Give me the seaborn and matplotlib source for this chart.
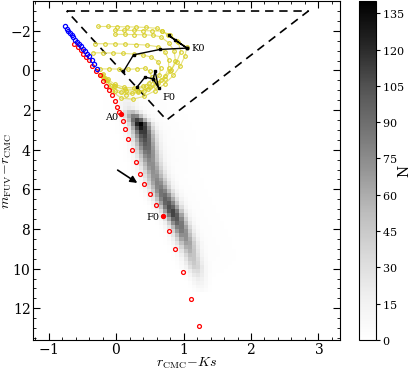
import numpy as np
import seaborn as sns
import matplotlib.pyplot as plt

# main-sequence locus (red open circles), A0 and F0 filled
red_x = [-0.62, -0.57, -0.52, -0.49, -0.44, -0.40, -0.36, -0.29, -0.24, -0.19, -0.15, -0.11,
         -0.06, -0.01, 0.02, 0.05, 0.10, 0.14, 0.18, 0.23, 0.29, 0.35, 0.42, 0.51, 0.59,
         0.79, 0.88, 0.99, 1.11, 1.23]
red_y = [-1.35, -1.18, -1.01, -0.84, -0.67, -0.51, -0.25, 0.03, 0.25, 0.51, 0.76, 1.01,
         1.26, 1.52, 1.85, 2.10, 2.53, 2.95, 3.45, 4.00, 4.60, 5.20, 5.74, 6.25, 6.77,
         8.08, 9.02, 10.17, 11.53, 12.90]
ref_x = [0.07, 0.69]
ref_y = [2.19, 7.36]

# hot end (blue circles)
blue_x = [-0.756, -0.731, -0.706, -0.681, -0.657, -0.632, -0.602, -0.573, -0.543,
          -0.514, -0.484, -0.454, -0.425, -0.395, -0.360, -0.326, -0.286]
blue_y = [-2.22, -2.10, -1.99, -1.89, -1.78, -1.68, -1.55, -1.45, -1.33,
          -1.21, -1.08, -0.96, -0.84, -0.71, -0.54, -0.34, -0.08]

# yellow model tracks
track_x = [
    [-0.26, -0.12, 0.02, 0.16, 0.30, 0.45, 0.60, 0.68, 0.77, 0.90, 1.05, 1.02, 0.95, 0.85, 0.72, 0.58, 0.42, 0.25, 0.08, -0.06, -0.18],
    [-0.01, 0.12, 0.26, 0.40, 0.54, 0.68, 0.80, 0.92, 0.96, 0.90, 0.80, 0.66, 0.50, 0.33, 0.15, -0.02, -0.17],
    [-0.01, 0.13, 0.27, 0.41, 0.55, 0.66, 0.78, 0.86, 0.88, 0.82, 0.72, 0.58, 0.42, 0.24, 0.07, -0.08, -0.19],
    [-0.31, -0.17, -0.02, 0.14, 0.30, 0.46, 0.62, 0.72, 0.78, 0.78, 0.72, 0.62, 0.48, 0.32, 0.15, -0.02, -0.15, -0.22],
    [-0.34, -0.20, -0.04, 0.11, 0.26, 0.40, 0.52, 0.62, 0.66, 0.64, 0.57, 0.45, 0.30, 0.13, -0.03, -0.14, -0.21],
    [-0.24, -0.10, 0.04, 0.18, 0.31, 0.43, 0.50, 0.53, 0.49, 0.40, 0.27, 0.12, -0.02, -0.12, -0.20],
]
track_y = [
    [-2.22, -2.22, -2.21, -2.20, -2.19, -2.17, -2.13, -2.00, -1.77, -1.50, -1.18, -0.72, -0.22, 0.25, 0.68, 1.02, 1.30, 1.45, 1.40, 1.05, 0.45],
    [-2.02, -2.02, -2.02, -2.01, -2.00, -1.98, -1.80, -1.45, -0.95, -0.45, 0.05, 0.48, 0.85, 1.10, 1.22, 1.05, 0.38],
    [-1.82, -1.82, -1.81, -1.80, -1.78, -1.70, -1.40, -1.00, -0.50, 0.00, 0.45, 0.80, 1.05, 1.15, 1.08, 0.80, 0.32],
    [-1.35, -1.35, -1.34, -1.33, -1.31, -1.28, -1.20, -0.95, -0.55, -0.10, 0.30, 0.65, 0.92, 1.05, 1.02, 0.80, 0.50, 0.25],
    [-0.89, -0.89, -0.88, -0.86, -0.83, -0.78, -0.68, -0.45, -0.10, 0.25, 0.55, 0.80, 0.95, 0.95, 0.78, 0.50, 0.22],
    [-0.08, -0.08, -0.07, -0.06, -0.08, -0.12, 0.05, 0.35, 0.62, 0.80, 0.88, 0.85, 0.70, 0.45, 0.18],
]

# spectral-type lines across tracks
k0_x = [0.11, 0.26, 0.65, 1.05, 0.78, 0.87, 1.05]
k0_y = [0.05, -0.79, -1.06, -1.13, -1.77, -1.55, -1.13]
f0_x = [0.31, 0.43, 0.55, 0.58, 0.63, 0.55]
f0_y = [0.84, 0.34, 0.42, 0.05, 0.87, 0.42]

# selection region
box_x = [-0.73, 2.85, 0.75, -0.73]
box_y = [-3.0, -3.0, 2.5, -3.0]

# ridge of the observed stellar density (2D histogram)
ridge_y = [-0.5, 1.0, 1.9, 2.3, 2.7, 3.2, 3.8, 4.5, 5.2, 5.9, 6.5, 7.2, 7.9, 8.7, 9.3, 9.9, 10.5, 11.2]
ridge_x = [0.0, 0.10, 0.19, 0.27, 0.36, 0.41, 0.45, 0.50, 0.57, 0.65, 0.74, 0.85, 0.95, 1.05, 1.11, 1.17, 1.22, 1.26]
ridge_n = [0, 3, 20, 80, 135, 110, 95, 75, 70, 80, 95, 112, 85, 65, 50, 40, 18, 4]
ridge_w = [0.10, 0.10, 0.09, 0.10, 0.10, 0.11, 0.11, 0.11, 0.11, 0.11, 0.11, 0.10, 0.10, 0.10, 0.09, 0.09, 0.08, 0.08]
halo_n = [0, 3, 4, 4, 4, 4, 4, 4, 3, 3, 3, 3, 3, 3, 3, 2, 1, 0]

xe = np.arange(-0.5, 2.5001, 0.06)
ye = np.arange(-1.0, 12.0001, 0.2)
xc = 0.5 * (xe[:-1] + xe[1:])
yc = 0.5 * (ye[:-1] + ye[1:])
X, Y = np.meshgrid(xc, yc)
cx = np.interp(Y, ridge_y, ridge_x)
pk = np.interp(Y, ridge_y, ridge_n, left=0, right=0)
sw = np.interp(Y, ridge_y, ridge_w)
hn = np.interp(Y, ridge_y, halo_n, left=0, right=0)
N = pk * np.exp(-0.5 * ((X - cx) / sw) ** 2)
N += hn * np.exp(-0.5 * ((X - cx - 0.2) / 0.4) ** 2)
N = np.round(N)

plt.rcParams['font.family'] = 'DejaVu Serif'
plt.rcParams['mathtext.fontset'] = 'cm'
plt.rcParams['axes.formatter.use_mathtext'] = True

fig = plt.figure(figsize=(4.15, 3.7), dpi=100)
ax = fig.add_axes([0.0795, 0.081, 0.740, 0.916])
cax = fig.add_axes([0.865, 0.081, 0.041, 0.916])

sns.histplot(x=X.ravel(), y=Y.ravel(), weights=N.ravel(), bins=[xe, ye], cmap='Greys',
             vmin=0, vmax=140, cbar=True, cbar_ax=cax,
             cbar_kws={'ticks': list(range(0, 136, 15))}, ax=ax)
cax.tick_params(labelsize=8, pad=1.5, length=3)
cax.text(2.65, 0.5, 'N', rotation=90, fontsize=10, ha='center', va='center',
         transform=cax.transAxes)

ax.plot(box_x, box_y, 'k--', lw=1.2, dashes=(5, 3.5))
yel = '#d8cf2a'
for tx, ty in zip(track_x, track_y):
    ax.plot(tx, ty, '-', color=yel, lw=0.8, alpha=0.6)
    ax.plot(tx, ty, 'o', ms=2.6, mfc='none', mec=yel, mew=0.8)
ax.plot(k0_x[:4], k0_y[:4], 'k-s', lw=1, ms=2)
ax.plot(k0_x[3:], k0_y[3:], 'k-s', lw=1, ms=2)
ax.plot(f0_x, f0_y, 'k-s', lw=1, ms=2)

ax.plot(red_x, red_y, 'o', ms=2.8, mfc='none', mec='red', mew=0.9)
ax.plot(blue_x, blue_y, 'o', ms=3, mfc='none', mec='blue', mew=0.9)
ax.plot(ref_x, ref_y, 'o', ms=2.8, color='red')
ax.text(0.03, 2.35, 'A0', fontsize=7, ha='right', va='center')
ax.text(0.64, 7.4, 'F0', fontsize=7, ha='right', va='center')
ax.text(0.68, 1.35, 'F0', fontsize=7, ha='left', va='center')
ax.text(1.12, -1.1, 'K0', fontsize=7, ha='left', va='center')
ax.annotate('', xy=(0.35, 5.75), xytext=(-0.01, 4.95),
            arrowprops=dict(arrowstyle='-|>', color='k', lw=1.2, mutation_scale=10))

ax.set_xlim(-1.23, 3.32)
ax.set_ylim(13.6, -3.5)
ax.set_xticks([-1, 0, 1, 2, 3])
ax.set_yticks([-2, 0, 2, 4, 6, 8, 10, 12])
ax.set_xticks(np.arange(-1.2, 3.31, 0.2), minor=True)
ax.set_yticks(np.arange(-3.5, 13.6, 0.5), minor=True)
ax.tick_params(which='both', direction='in', top=True, right=True, labelsize=10, pad=1.5)
ax.tick_params(which='major', length=5)
ax.tick_params(which='minor', length=2.5)
ax.set_xlabel(r'$r_{\rm CMC}\!-\!Ks$', fontsize=10, labelpad=-1)
ax.set_ylabel(r'$m_{\rm FUV}\!-\!r_{\rm CMC}$', fontsize=10, labelpad=-3)

fig.savefig('out.png', dpi=100)
